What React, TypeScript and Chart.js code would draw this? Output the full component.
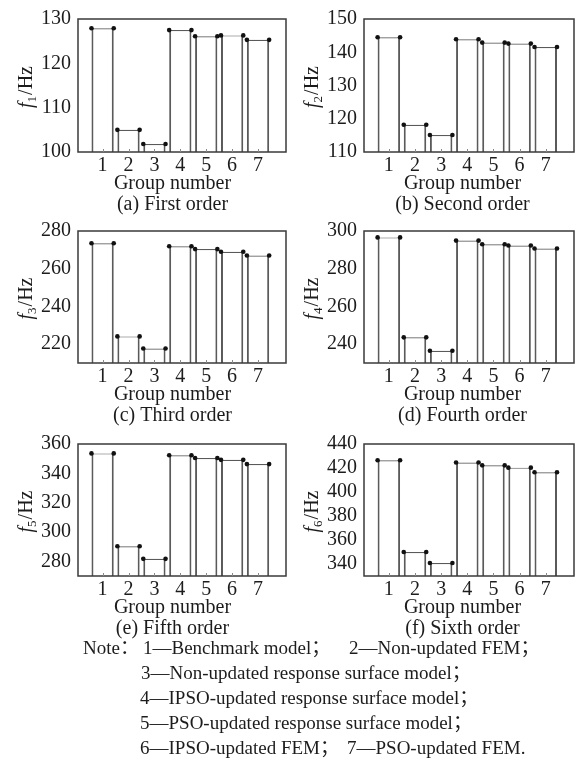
import React, { useEffect, useRef } from 'react';
import { Chart, registerables } from 'chart.js';

Chart.register(...registerables);

// ---------- data ----------
const groups = [1, 2, 3, 4, 5, 6, 7];
const order1 = [127.9, 105.0, 101.8, 127.5, 126.1, 126.3, 125.3];
const order2 = [144.5, 118.2, 115.1, 143.9, 142.9, 142.6, 141.6];
const order3 = [273.5, 224.1, 217.7, 271.9, 270.4, 269.0, 267.0];
const order4 = [296.6, 243.6, 236.5, 294.9, 293.0, 292.3, 290.7];
const order5 = [353.6, 290.3, 281.7, 352.3, 350.5, 349.2, 346.3];
const order6 = [426.5, 350.0, 340.8, 424.6, 422.2, 420.3, 416.5];

const yRange1 = [100, 130];
const yRange2 = [110, 150];
const yRange3 = [210, 280];
const yRange4 = [230, 300];
const yRange5 = [270, 360];
const yRange6 = [330, 440];
const yTicks1 = [100, 110, 120, 130];
const yTicks2 = [110, 120, 130, 140, 150];
const yTicks3 = [220, 240, 260, 280];
const yTicks4 = [240, 260, 280, 300];
const yTicks5 = [280, 300, 320, 340, 360];
const yTicks6 = [340, 360, 380, 400, 420, 440];

const captions = [
  '(a) First order',
  '(b) Second order',
  '(c) Third order',
  '(d) Fourth order',
  '(e) Fifth order',
  '(f) Sixth order',
];
const xTitle = 'Group number';
const yUnit = '/Hz';
const yVar = 'f';

// note lines, split into segments
const noteLine1 = ['Note：', '1—Benchmark model；', '2—Non-updated FEM；'];
const noteLine2 = ['3—Non-updated response surface model；'];
const noteLine3 = ['4—IPSO-updated response surface model；'];
const noteLine4 = ['5—PSO-updated response surface model；'];
const noteLine5 = ['6—IPSO-updated FEM；', '7—PSO-updated FEM.'];

// ---------- style ----------
const FONT = '"Liberation Serif", "Times New Roman", serif';
const NOTE_FONT = '"Liberation Serif", "Noto Sans CJK SC", serif';
const TEXT = '#1c1c1c';
const FRAME = '#3a3a3a';
const BAR_LINE = '#5a5a5a';
const BAR_FRACTION = 0.86;
const CANVAS_H = 228;
const PLOT_TOP = 15;
const FS = 20;

type PanelDef = {
  values: number[];
  range: number[];
  ticks: number[];
  sub: string;
  caption: string;
  col: number;
  row: number;
};

const panels: PanelDef[] = [
  { values: order1, range: yRange1, ticks: yTicks1, sub: '1', caption: captions[0], col: 0, row: 0 },
  { values: order2, range: yRange2, ticks: yTicks2, sub: '2', caption: captions[1], col: 1, row: 0 },
  { values: order3, range: yRange3, ticks: yTicks3, sub: '3', caption: captions[2], col: 0, row: 1 },
  { values: order4, range: yRange4, ticks: yTicks4, sub: '4', caption: captions[3], col: 1, row: 1 },
  { values: order5, range: yRange5, ticks: yTicks5, sub: '5', caption: captions[4], col: 0, row: 2 },
  { values: order6, range: yRange6, ticks: yTicks6, sub: '6', caption: captions[5], col: 1, row: 2 },
];

const colGeom = [
  { left: 0, width: 290, axisW: 78, padRight: 2, yTitleX: 32 },
  { left: 290, width: 293, axisW: 74, padRight: 9, yTitleX: 28 },
];
const rowTops = [0, 212, 425];
const plotHeights = [137, 136, 136];

const panelTextPlugin = {
  id: 'panelText',
  afterDraw(chart: any, _args: any, opts: any) {
    const { ctx, chartArea } = chart;
    const { left, right, top, bottom } = chartArea;
    ctx.save();
    ctx.strokeStyle = FRAME;
    ctx.lineWidth = 1.5;
    ctx.strokeRect(left, top, right - left, bottom - top);
    const xs = chart.scales.x;
    ctx.strokeStyle = '#8a8a8a';
    ctx.lineWidth = 1;
    xs.ticks.forEach((t: any) => {
      const px = Math.round(xs.getPixelForValue(t.value)) + 0.5;
      ctx.beginPath();
      ctx.moveTo(px, bottom);
      ctx.lineTo(px, bottom - 3);
      ctx.stroke();
    });
    ctx.restore();

    ctx.save();
    ctx.fillStyle = TEXT;
    ctx.textBaseline = 'alphabetic';
    ctx.textAlign = 'left';
    const fMain = `italic ${FS}px ${FONT}`;
    const fSub = `13px ${FONT}`;
    const fReg = `${FS}px ${FONT}`;
    ctx.font = fMain;
    const wF = ctx.measureText(yVar).width;
    ctx.font = fSub;
    const wS = ctx.measureText(opts.sub).width;
    ctx.font = fReg;
    const wR = ctx.measureText(yUnit).width;
    const total = wF + wS + 1 + wR;
    ctx.translate(opts.yTitleX, (top + bottom) / 2 + 1.5);
    ctx.rotate(-Math.PI / 2);
    let x = -total / 2;
    ctx.font = fMain;
    ctx.fillText(yVar, x, 0);
    x += wF;
    ctx.font = fSub;
    ctx.fillText(opts.sub, x, 4);
    x += wS + 1;
    ctx.font = fReg;
    ctx.fillText(yUnit, x, 0);
    ctx.restore();

    ctx.save();
    ctx.fillStyle = TEXT;
    ctx.font = `${FS}px ${FONT}`;
    ctx.textAlign = 'center';
    ctx.textBaseline = 'alphabetic';
    ctx.fillText(xTitle, opts.centerX, bottom + 36.5);
    ctx.fillText(opts.caption, opts.centerX, bottom + 58);
    ctx.restore();
  },
};

function Panel({ def }: { def: PanelDef }) {
  const ref = useRef<HTMLCanvasElement | null>(null);
  const g = colGeom[def.col];
  const plotH = plotHeights[def.row];

  useEffect(() => {
    if (!ref.current) return;
    const [yMin, yMax] = def.range;
    const barData = groups.map((gv, i) => ({ x: gv, y: def.values[i] }));
    const dotData = groups.flatMap((gv, i) => [
      { x: gv - BAR_FRACTION / 2, y: def.values[i] },
      { x: gv + BAR_FRACTION / 2, y: def.values[i] },
    ]);
    const tickFont = { family: FONT, size: FS, lineHeight: 1.2 };
    const chart = new Chart(ref.current, {
      type: 'bar',
      data: {
        datasets: [
          {
            type: 'scatter',
            data: dotData,
            pointRadius: 2.3,
            pointBackgroundColor: '#111',
            pointBorderWidth: 0,
            showLine: false,
            order: 0,
          } as any,
          {
            type: 'bar',
            data: barData,
            backgroundColor: '#ffffff',
            borderColor: BAR_LINE,
            borderWidth: { top: 1.2, left: 2, right: 2, bottom: 0 },
            borderSkipped: 'start',
            barPercentage: BAR_FRACTION,
            categoryPercentage: 1,
            base: yMin,
            order: 1,
          } as any,
        ],
      },
      options: {
        animation: false,
        responsive: false,
        maintainAspectRatio: false,
        events: [],
        layout: { padding: { top: PLOT_TOP, right: g.padRight, left: 0, bottom: 0 } },
        plugins: {
          legend: { display: false },
          tooltip: { enabled: false },
          title: { display: false },
          panelText: {
            sub: def.sub,
            caption: def.caption,
            yTitleX: g.yTitleX,
            centerX: 172.5,
          },
        } as any,
        scales: {
          x: {
            type: 'linear',
            offset: false,
            min: 0.05,
            max: 8.08,
            afterBuildTicks: (s: any) => {
              s.ticks = groups.map((v) => ({ value: v }));
            },
            afterFit: (s: any) => {
              s.height = CANVAS_H - PLOT_TOP - plotH;
            },
            grid: { display: false, drawTicks: false, offset: false },
            border: { display: false },
            ticks: { font: tickFont, color: TEXT, padding: 2, maxRotation: 0, autoSkip: false },
          },
          y: {
            type: 'linear',
            min: yMin,
            max: yMax,
            afterBuildTicks: (s: any) => {
              s.ticks = def.ticks.map((v) => ({ value: v }));
            },
            afterFit: (s: any) => {
              s.width = g.axisW;
            },
            grid: { display: false, drawTicks: false },
            border: { display: false },
            ticks: { font: tickFont, color: TEXT, padding: 7, autoSkip: false },
          },
        } as any,
      },
      plugins: [panelTextPlugin],
    } as any);
    return () => chart.destroy();
  }, []);

  return (
    <canvas
      ref={ref}
      width={g.width}
      height={CANVAS_H}
      style={{
        position: 'absolute',
        left: g.left,
        top: rowTops[def.row],
        width: g.width,
        height: CANVAS_H,
      }}
    />
  );
}

const noteRows = [
  { segs: noteLine1, lefts: [83, 143, 349], top: 635 },
  { segs: noteLine2, lefts: [141], top: 660 },
  { segs: noteLine3, lefts: [140], top: 685 },
  { segs: noteLine4, lefts: [140], top: 710 },
  { segs: noteLine5, lefts: [140, 347], top: 735 },
];

export default function App() {
  return (
    <div
      style={{
        position: 'absolute',
        left: 0,
        top: 0,
        width: 583,
        height: 761,
        background: '#ffffff',
        overflow: 'hidden',
      }}
    >
      {panels.map((p, i) => (
        <Panel key={i} def={p} />
      ))}
      {noteRows.map((row, i) =>
        row.segs.map((seg, j) => (
          <div
            key={'n' + i + '-' + j}
            style={{
              position: 'absolute',
              left: row.lefts[j],
              top: row.top,
              fontFamily: NOTE_FONT,
              fontSize: 19,
              lineHeight: '25px',
              height: 25,
              color: TEXT,
              whiteSpace: 'nowrap',
            }}
          >
            {seg}
          </div>
        ))
      )}
    </div>
  );
}
